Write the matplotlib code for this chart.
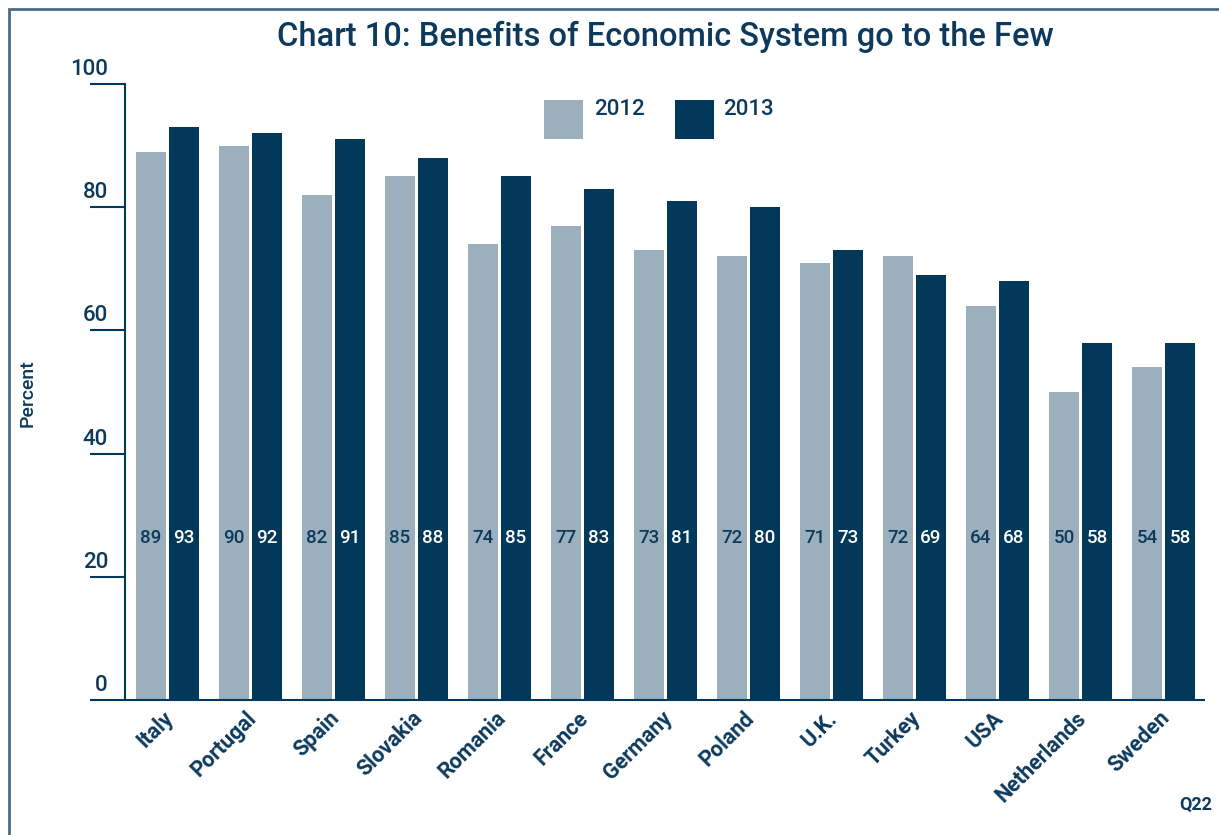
import matplotlib
matplotlib.use("Agg")
import matplotlib.pyplot as plt
from matplotlib.patches import Rectangle
import matplotlib.transforms as mtransforms
import numpy as np

countries = ["Italy", "Portugal", "Spain", "Slovakia", "Romania", "France",
             "Germany", "Poland", "U.K.", "Turkey", "USA", "Netherlands", "Sweden"]
vals_2012 = [89, 90, 82, 85, 74, 77, 73, 72, 71, 72, 64, 50, 54]
vals_2013 = [93, 92, 91, 88, 85, 83, 81, 80, 73, 69, 68, 58, 58]
series_names = ["2012", "2013"]
y_ticks = [0, 20, 40, 60, 80, 100]

C12 = "#9bb0bc"
C13 = "#023859"
TXT = "#0d3a5c"
FONT = ["Roboto", "DejaVu Sans"]

plt.rcParams["font.family"] = FONT

W, H = 1219, 835
fig = plt.figure(figsize=(W / 100, H / 100), dpi=100)
ax = fig.add_axes([125 / W, 1 - 700 / H, (1204 - 125) / W, (700 - 84) / H])

x = np.arange(len(countries))
bw = 0.361
gap = 0.036
off = (bw + gap) / 2
b1 = ax.bar(x - off, vals_2012, bw, color=C12, label=series_names[0])
b2 = ax.bar(x + off, vals_2013, bw, color=C13, label=series_names[1])

for xi, v in zip(x, vals_2012):
    ax.text(xi - off, 26.3, str(v), ha="center", va="center", color=TXT,
            fontsize=13.5, fontweight="medium")
for xi, v in zip(x, vals_2013):
    ax.text(xi + off, 26.3, str(v), ha="center", va="center", color="white",
            fontsize=13.5, fontweight="medium")

ax.set_xlim(-0.512, 12.488)
ax.set_ylim(0, 100)

for s in ["top", "right"]:
    ax.spines[s].set_visible(False)
for s in ["left", "bottom"]:
    ax.spines[s].set_color(C13)
    ax.spines[s].set_linewidth(1.5)

ax.set_yticks(y_ticks)
ax.set_yticklabels([])
ax.tick_params(axis="y", length=25, width=1.5, color=C13)
for t in y_ticks:
    ax.annotate(str(t), xy=(0, t), xycoords=("axes fraction", "data"),
                xytext=(-17, 4), textcoords="offset pixels",
                ha="right", va="bottom", color=TXT, fontsize=16,
                fontweight="medium", annotation_clip=False)

ax.set_xticks(x)
ax.set_xticklabels(countries, rotation=45, ha="right", rotation_mode="anchor",
                   color=TXT, fontsize=15.5, fontweight="bold")
ax.tick_params(axis="x", length=0, pad=5)
shift = mtransforms.ScaledTranslation(-5 / 100, 0, fig.dpi_scale_trans)
for lbl in ax.get_xticklabels():
    lbl.set_transform(lbl.get_transform() + shift)

fig.text(28 / W, 1 - 393 / H, "Percent", rotation=90, ha="center", va="center",
         color=TXT, fontsize=14, fontweight="medium")

fig.text(665 / W, 1 - 37 / H, "Chart 10: Benefits of Economic System go to the Few",
         ha="center", va="center", color=TXT, fontsize=23.5, fontweight="medium")

fig.text(1212 / W, 1 - 805 / H, "Q22", ha="right", va="center", color=TXT,
         fontsize=13, fontweight="bold")

# legend drawn manually: square + label
leg_items = [(series_names[0], C12, 544, 594), (series_names[1], C13, 675, 723)]
for name, col, sx, tx in leg_items:
    fig.patches.append(Rectangle((sx / W, 1 - 139 / H), 39 / W, 39 / H,
                                 transform=fig.transFigure, facecolor=col,
                                 edgecolor="none"))
    fig.text(tx / W, 1 - 99 / H, name, ha="left", va="top", color=TXT,
             fontsize=16, fontweight="medium")

fig.patches.append(Rectangle((8.5 / W, -0.1), 1.2, 1 - 8.5 / H + 0.1, transform=fig.transFigure,
                             fill=False, edgecolor="#4a6b85", linewidth=2))

fig.savefig("out.png", dpi=100)
